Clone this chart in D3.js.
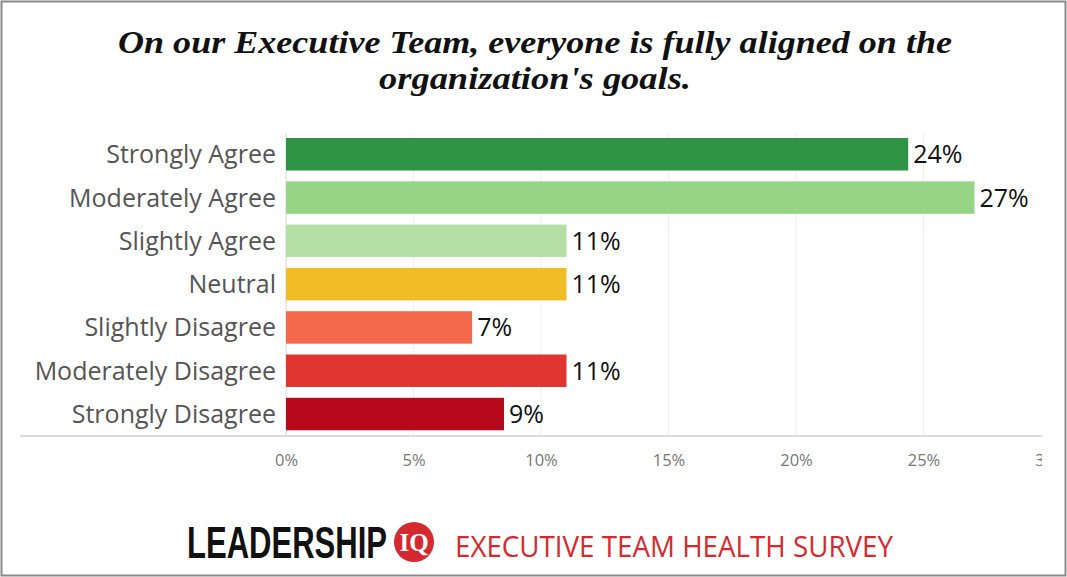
<!DOCTYPE html>
<html>
<head>
<meta charset="utf-8">
<script src="https://cdn.jsdelivr.net/npm/d3@7"></script>
<style>
	body { margin: 0; background: #fff; }
	svg { display: block; }
	.catLabel { font-family: 'Open Sans', Lato, sans-serif; font-size: 25px; fill: #555; }
	.barLabel { font-family: 'Open Sans', Lato, sans-serif; font-size: 25px; fill: #111; }
	.xAxis text { font-family: 'Open Sans', Lato, sans-serif; font-size: 16.5px; fill: #777; }
</style>
</head>
<body>
<div id="chart"><svg width="1067" height="577"></svg></div>
<script>
// data
const categories = ['Strongly Agree', 'Moderately Agree', 'Slightly Agree', 'Neutral', 'Slightly Disagree', 'Moderately Disagree', 'Strongly Disagree'];
const shares = [0.244, 0.270, 0.110, 0.110, 0.073, 0.110, 0.0855];
const barColors = ['#2f9345', '#98d486', '#b4e0a6', '#f0bd27', '#f4694b', '#e03531', '#b60a1c'];
const tickValues = [0, 0.05, 0.10, 0.15, 0.20, 0.25, 0.30];

const width = 1067;
const height = 577;
const margin = { top: 133.7, left: 286, bottom: 434.6 };
const plotRight = 1042;

const svg = d3.select('#chart').select('svg');

// outer frame
svg.append('rect')
	.attr('x', 1.5).attr('y', 1.5)
	.attr('width', width - 3).attr('height', height - 3)
	.attr('fill', 'none').attr('stroke', '#8a8a8a').attr('stroke-width', 2);

/* TITLE */
const titleLines = [
	{ label: 'On our Executive Team, everyone is fully aligned on the', y: 53, len: 834 },
	{ label: "organization's goals.", y: 89, len: 312 }
];
svg.append('g').selectAll('text')
	.data(titleLines)
	.enter()
	.append('text')
	.attr('x', 535)
	.attr('y', d => d.y)
	.attr('text-anchor', 'middle')
	.attr('textLength', d => d.len)
	.attr('lengthAdjust', 'spacingAndGlyphs')
	.style('font-family', "'Liberation Serif', 'DejaVu Serif', serif")
	.style('font-weight', 'bold')
	.style('font-style', 'italic')
	.style('font-size', '31px')
	.attr('fill', '#111')
	.text(d => d.label);

/* SCALES */
const xScale = d3.scaleLinear()
	.domain([0, 0.30])
	.range([margin.left, margin.left + 765]);

const yScale = d3.scaleBand()
	.domain(categories)
	.range([margin.top, margin.bottom])
	.paddingInner(0.25)
	.paddingOuter(0.1);

// clip anything past the plot's right edge (the 30% tick label gets cut)
svg.append('clipPath').attr('id', 'plotClip')
	.append('rect').attr('x', 0).attr('y', 0).attr('width', plotRight).attr('height', height);

/* GRIDLINES */
svg.append('g')
	.selectAll('line')
	.data(tickValues.filter(t => xScale(t) < plotRight))
	.enter()
	.append('line')
	.attr('x1', d => xScale(d)).attr('x2', d => xScale(d))
	.attr('y1', margin.top).attr('y2', 436)
	.attr('stroke', d => d === 0 ? '#d4d4d4' : '#efefef')
	.attr('stroke-width', 1);

/* X AXIS */
const xAxis = svg.append('g')
	.attr('class', 'xAxis')
	.attr('clip-path', 'url(#plotClip)')
	.attr('transform', 'translate(0, 436)')
	.call(d3.axisBottom(xScale).tickValues(tickValues).tickFormat(d3.format('.0%')).tickSize(0).tickPadding(18));
xAxis.select('.domain').remove();

svg.append('line')
	.attr('x1', 20).attr('x2', plotRight)
	.attr('y1', 436).attr('y2', 436)
	.attr('stroke', '#d0d0d0').attr('stroke-width', 1.5);

/* BARS */
const plot = svg.append('g');

plot.selectAll('.bar')
	.data(categories)
	.enter()
	.append('rect')
	.attr('class', 'bar')
	.attr('x', xScale(0))
	.attr('y', d => yScale(d))
	.attr('height', yScale.bandwidth())
	.attr('width', (d, i) => xScale(shares[i]) - xScale(0))
	.attr('fill', (d, i) => barColors[i]);

// value labels, 5px right of the bar
plot.selectAll('.barLabel')
	.data(categories)
	.enter()
	.append('text')
	.attr('class', 'barLabel')
	.attr('x', (d, i) => xScale(shares[i]) + 5)
	.attr('y', d => yScale(d) + yScale.bandwidth() / 2 + 9)
	.text((d, i) => d3.format('.0%')(shares[i]));

// category labels
plot.selectAll('.catLabel')
	.data(categories)
	.enter()
	.append('text')
	.attr('class', 'catLabel')
	.attr('text-anchor', 'end')
	.attr('x', 276)
	.attr('y', d => yScale(d) + yScale.bandwidth() / 2 + 9)
	.text(d => d);

/* FOOTER */
const footer = svg.append('g');

// logo word, squeezed horizontally to a 200px width
const logo = footer.append('text')
	.attr('x', 0).attr('y', 0)
	.style('font-family', "'Liberation Sans Narrow', 'Liberation Sans', sans-serif")
	.style('font-weight', 'bold')
	.style('font-size', '44px')
	.attr('fill', '#111')
	.text('LEADERSHIP');
const logoW = logo.node().getComputedTextLength();
logo.attr('transform', `translate(187, 558) scale(${200 / logoW}, 1)`);

footer.append('circle')
	.attr('cx', 414).attr('cy', 542).attr('r', 20)
	.attr('fill', '#d42a2f');

footer.append('text')
	.attr('x', 414).attr('y', 551)
	.attr('text-anchor', 'middle')
	.style('font-family', "'Liberation Serif', serif")
	.style('font-weight', 'bold')
	.style('font-size', '25px')
	.attr('fill', '#fff')
	.text('IQ');

footer.append('text')
	.attr('x', 455).attr('y', 557)
	.attr('textLength', 438).attr('lengthAdjust', 'spacingAndGlyphs')
	.style('font-family', "'Open Sans', sans-serif")
	.style('font-size', '30px')
	.attr('fill', '#d42a2f')
	.text('EXECUTIVE TEAM HEALTH SURVEY');
</script>
</body>
</html>
